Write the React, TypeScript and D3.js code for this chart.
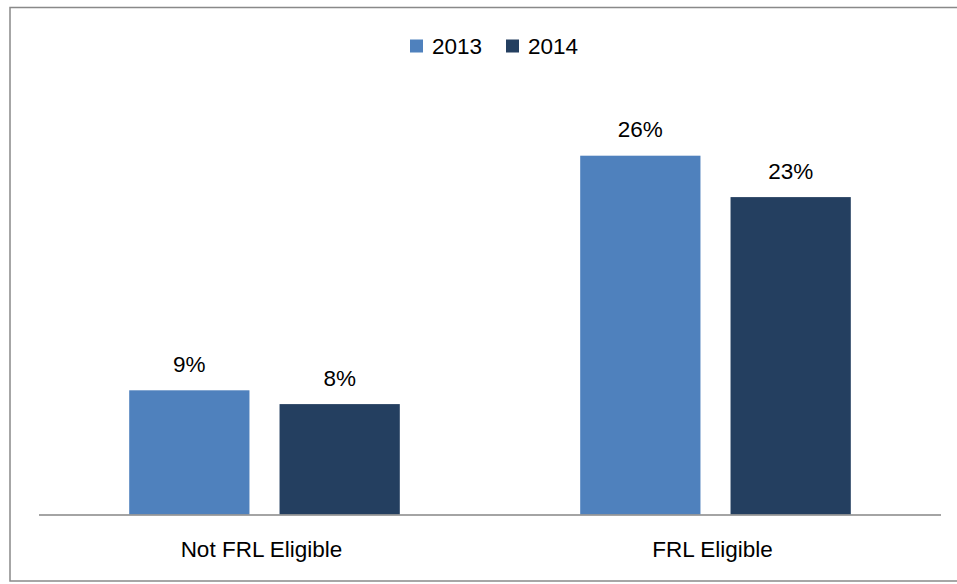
import React from "react";
import * as d3 from "d3";

const categories = ["Not FRL Eligible", "FRL Eligible"];
const series = ["2013", "2014"];
const values2013 = [9, 26];
const values2014 = [8, 23];
const colors = ["#4F81BD", "#243F60"];
const yMax = 30;

const W = 957;
const H = 584;
const FONT = "'Liberation Sans', Arial, sans-serif";

export default function App() {
  const plotLeft = 39;
  const plotRight = 941;
  const plotBottom = 514.5;
  const plotTop = 100.5;

  const x0 = d3.scaleBand<string>().domain(categories).range([plotLeft, plotRight]).padding(0);
  const barW = x0.bandwidth() / 3.75;
  const groupW = barW * 2.25;
  const x1 = d3.scaleBand<string>().domain(series).range([0, groupW]).paddingInner(0.2).paddingOuter(0);
  const y = d3.scaleLinear().domain([0, yMax]).range([plotBottom, plotTop]);

  const data = [values2013, values2014];
  const fmt = d3.format(".0f");

  const legendX = 410;
  const legendItems = [
    { label: series[0], x: legendX },
    { label: series[1], x: legendX + 96 },
  ];

  return (
    <svg width={W} height={H} style={{ position: "absolute", left: 0, top: 0 }} fontFamily={FONT}>
      <rect x={0} y={0} width={W} height={H} fill="#fff" />
      <rect x={10} y={7.5} width={960} height={573.5} fill="#fff" stroke="#898989" strokeWidth={1.5} />
      {legendItems.map((it, i) => (
        <g key={it.label}>
          <rect x={it.x} y={39.5} width={13} height={13} fill={colors[i]} />
          <text x={it.x + 22} y={54} fontSize={22.5} fill="#000">{it.label}</text>
        </g>
      ))}
      {categories.map((c, ci) => {
        const gx = (x0(c) as number) + (x0.bandwidth() - groupW) / 2;
        return (
          <g key={c}>
            {series.map((s, si) => {
              const v = data[si][ci];
              const bx = gx + (x1(s) as number);
              return (
                <g key={s}>
                  <rect x={bx} y={y(v)} width={x1.bandwidth()} height={plotBottom - y(v)} fill={colors[si]} />
                  <text x={bx + x1.bandwidth() / 2} y={y(v) - 18.5} fontSize={22.5} textAnchor="middle" fill="#000">
                    {fmt(v)}%
                  </text>
                </g>
              );
            })}
            <text x={(x0(c) as number) + x0.bandwidth() / 2 - 3} y={557} fontSize={22.5} textAnchor="middle" fill="#000">
              {c}
            </text>
          </g>
        );
      })}
      <line x1={plotLeft} x2={plotRight} y1={plotBottom + 0.5} y2={plotBottom + 0.5} stroke="#868686" strokeWidth={1.5} />
    </svg>
  );
}
